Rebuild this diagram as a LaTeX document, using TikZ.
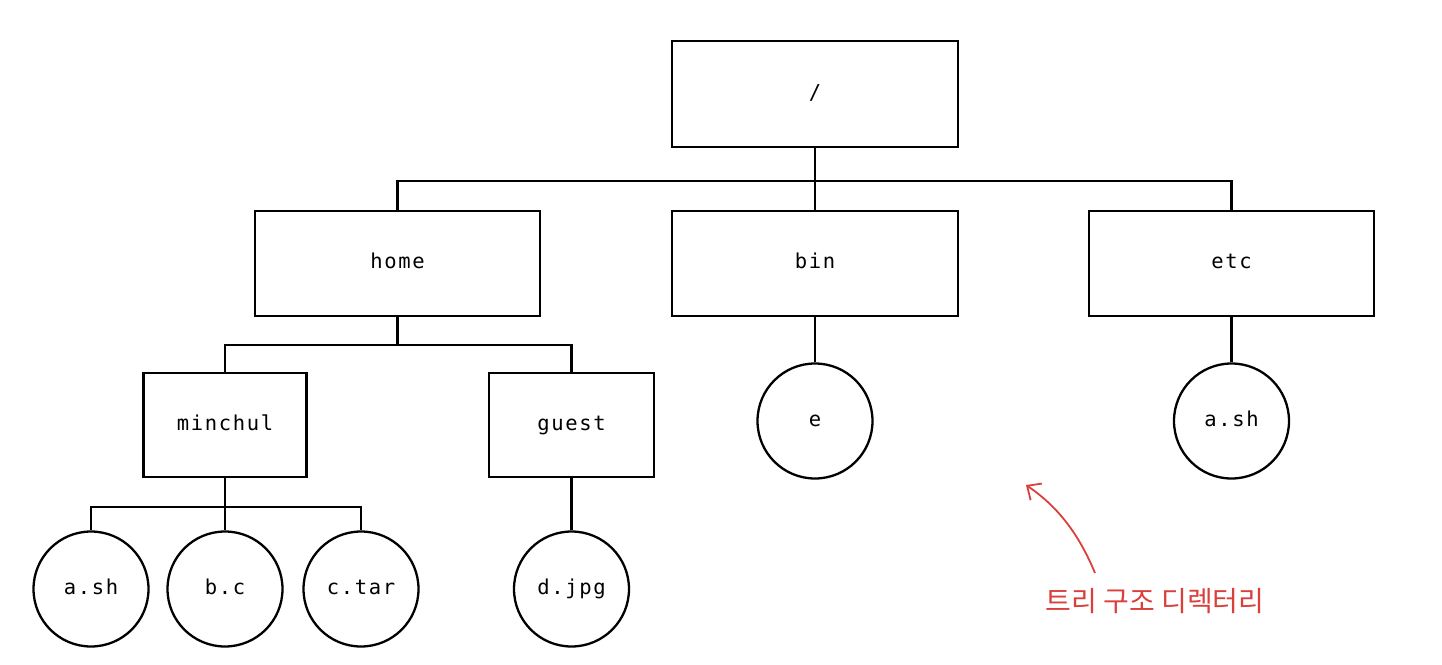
\documentclass[tikz,border=0pt]{standalone}
\usepackage{fontspec}
\newfontfamily\labelfont{DejaVu Sans Mono}[LetterSpace=8]
\newfontfamily\krfont{Noto Sans CJK KR}
\usetikzlibrary{arrows.meta}
\definecolor{annot}{HTML}{D9403C}
\tikzset{
  every picture/.style={x=1pt,y=-1pt},
  line/.style={line width=2.3pt,black},
  lbl/.style={font=\labelfont\fontsize{20.5}{24}\selectfont,text height=15pt,text depth=5pt},
  dirbox/.style={draw,line width=2.3pt,rectangle,inner sep=0pt,lbl},
  filecirc/.style={draw,line width=2.3pt,circle,minimum size=115pt,inner sep=0pt,lbl},
  note/.style={text=annot,font=\krfont\fontsize{28}{32}\selectfont},
}
\begin{document}
\begin{tikzpicture}
\useasboundingbox (0,0) rectangle (1442,664);
% directories
\node[dirbox,minimum width=286pt,minimum height=106pt] (root) at (815,94) {/};
\node[dirbox,minimum width=285pt,minimum height=105pt] (home) at (397.5,263.5) {home};
\node[dirbox,minimum width=286pt,minimum height=105pt] (bin) at (815,263.5) {bin};
\node[dirbox,minimum width=285pt,minimum height=105pt] (etc) at (1231.5,263.5) {etc};
\node[dirbox,minimum width=163pt,minimum height=104pt] (minchul) at (225,425) {minchul};
\node[dirbox,minimum width=165pt,minimum height=104pt] (guest) at (571.5,425) {guest};
% files
\node[filecirc] (e) at (815,421) {e};
\node[filecirc] (etcash) at (1231.5,421) {a.sh};
\node[filecirc] (ash) at (91,589) {a.sh};
\node[filecirc] (bc) at (225,589) {b.c};
\node[filecirc] (ctar) at (361,589) {c.tar};
\node[filecirc] (djpg) at (571.5,589) {d.jpg};
% connectors
\draw[line] (root.south) -- ++(0,33) -| (home.north);
\draw[line] (root.south) -- (bin.north);
\draw[line] (root.south) -- ++(0,33) -| (etc.north);
\draw[line] (home.south) -- ++(0,28) -| (minchul.north);
\draw[line] (home.south) -- ++(0,28) -| (guest.north);
\draw[line] (bin.south) -- (e.north);
\draw[line] (etc.south) -- (etcash.north);
\draw[line] (minchul.south) -- ++(0,29) -| (ash.north);
\draw[line] (minchul.south) -- (bc.north);
\draw[line] (minchul.south) -- ++(0,29) -| (ctar.north);
\draw[line] (guest.south) -- (djpg.north);
% annotation
\node[note] (label) at (1155,601) {트리 구조 디렉터리};
\coordinate (tip) at (1026,485);
\draw[annot,line width=1.8pt,-{Straight Barb[length=11pt,width=20pt,line width=1.8pt]}]
  (1095,573) .. controls (1080,537) and (1060,508) .. (tip);
\end{tikzpicture}
\end{document}
